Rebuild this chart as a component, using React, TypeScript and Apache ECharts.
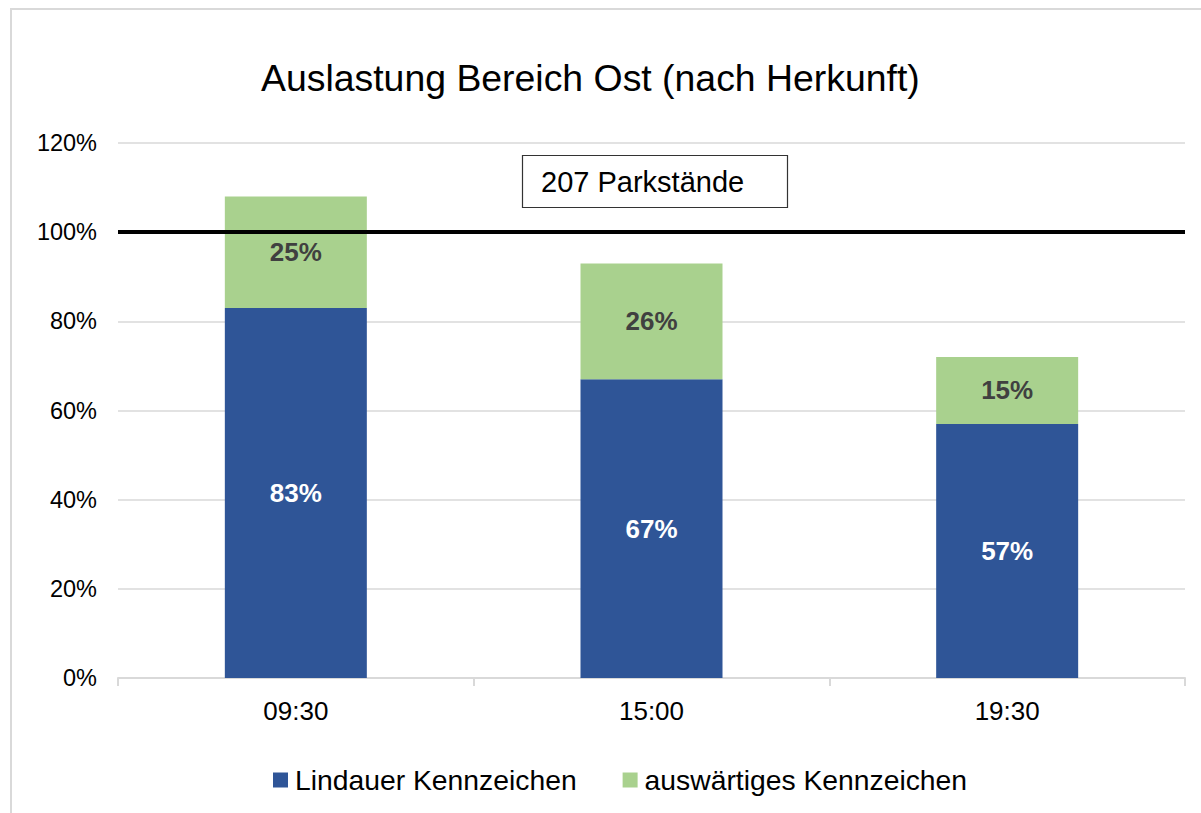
import React, { useEffect, useRef } from "react";
import * as echarts from "echarts";

const categories = ["09:30", "15:00", "19:30"];
const lindauer = [83, 67, 57];
const auswaertig = [25, 26, 15];
const capacityLine = 100;
const capacityLabel = "207 Parkstände";
const seriesNames = ["Lindauer Kennzeichen", "auswärtiges Kennzeichen"];
const titleText = "Auslastung Bereich Ost (nach Herkunft)";

const FONT = "Liberation Sans, Arial, sans-serif";

export default function App() {
  const ref = useRef<HTMLDivElement>(null);
  useEffect(() => {
    if (!ref.current) return;
    const chart = echarts.init(ref.current, undefined, { renderer: "svg" });
    chart.setOption({
      animation: false,
      backgroundColor: "#ffffff",
      title: {
        text: titleText,
        left: 256,
        top: 54,
        textStyle: { fontFamily: FONT, fontSize: 37.4, fontWeight: "normal", color: "#000" },
      },
      legend: {
        bottom: 14,
        left: 268,
        itemWidth: 15,
        itemHeight: 15,
        itemGap: 46,
        icon: "rect",
        textStyle: { fontFamily: FONT, fontSize: 28.3, color: "#000", padding: [0, 0, 0, 2] },
        data: seriesNames,
      },
      grid: { left: 118, right: 16, top: 143, bottom: 135, containLabel: false },
      xAxis: {
        type: "category",
        data: categories,
        axisLine: { lineStyle: { color: "#d9d9d9", width: 2 } },
        axisTick: { show: true, length: 8, lineStyle: { color: "#d9d9d9", width: 2 } },
        axisLabel: { fontFamily: FONT, fontSize: 26, color: "#000", margin: 20 },
      },
      yAxis: {
        type: "value",
        min: 0,
        max: 120,
        interval: 20,
        axisLine: { show: false },
        axisTick: { show: false },
        splitLine: { lineStyle: { color: "#d9d9d9", width: 1.5 } },
        axisLabel: {
          fontFamily: FONT,
          fontSize: 23.5,
          color: "#000",
          margin: 21,
          formatter: (v: number) => v + "%",
        },
      },
      series: [
        {
          name: seriesNames[0],
          type: "bar",
          stack: "total",
          barWidth: 142,
          data: lindauer,
          itemStyle: { color: "#2F5597" },
          label: {
            show: true,
            position: "inside",
            formatter: "{c}%",
            fontFamily: FONT,
            fontSize: 26,
            fontWeight: "bold",
            color: "#ffffff",
          },
        },
        {
          name: seriesNames[1],
          type: "bar",
          stack: "total",
          barWidth: 142,
          data: auswaertig,
          itemStyle: { color: "#A9D18E" },
          label: {
            show: true,
            position: "inside",
            formatter: "{c}%",
            fontFamily: FONT,
            fontSize: 26,
            fontWeight: "bold",
            color: "#404040",
          },
          markLine: {
            silent: true,
            symbol: "none",
            label: { show: false },
            lineStyle: { color: "#000", width: 4, type: "solid" },
            data: [{ yAxis: capacityLine }],
            z: 10,
          },
        },
      ],
      graphic: [
        {
          type: "rect",
          shape: { x: 11, y: 9, width: 1400, height: 1000 },
          style: { fill: "none", stroke: "#d9d9d9", lineWidth: 2 },
          silent: true,
          z: -10,
        },
        {
          type: "rect",
          shape: { x: 522.5, y: 155.5, width: 265, height: 52 },
          style: { fill: "#ffffff", stroke: "#333", lineWidth: 1.2 },
          z: 20,
        },
        {
          type: "text",
          x: 541,
          y: 181.5,
          style: {
            text: capacityLabel,
            fontFamily: FONT,
            fontSize: 29,
            fill: "#000",
            textVerticalAlign: "middle",
            verticalAlign: "middle",
          },
          z: 21,
        },
      ],
    });
    return () => chart.dispose();
  }, []);
  return (
    <div
      ref={ref}
      style={{ position: "fixed", left: 0, top: 0, width: 1201, height: 813 }}
    />
  );
}
